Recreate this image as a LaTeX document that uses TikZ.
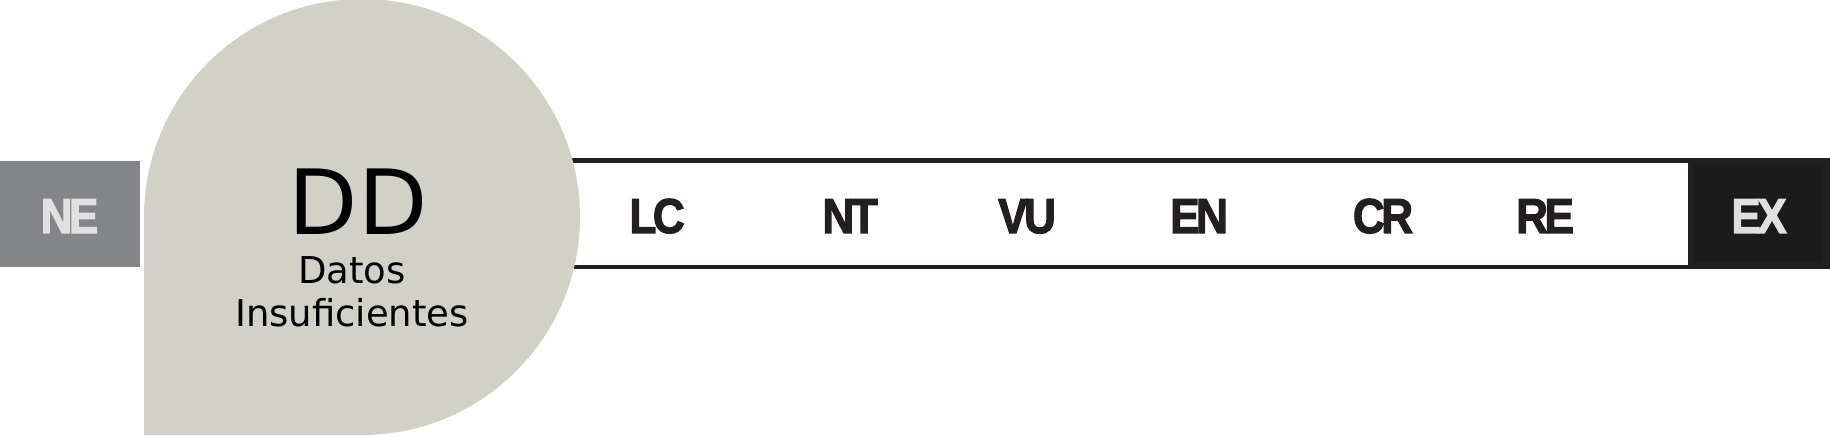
\documentclass[tikz,border=0pt]{standalone}
\usepackage{fontspec}
\newfontfamily\labfont[LetterSpace=-8, BoldFeatures={FakeBold=2.5}]{Liberation Sans}
\newfontfamily\djfont{DejaVu Sans}
\definecolor{ddfill}{RGB}{209,209,197}
\definecolor{negray}{RGB}{132,133,137}
\definecolor{netext}{RGB}{224,224,224}
\definecolor{ink}{RGB}{35,31,32}
\definecolor{exfill}{RGB}{27,27,27}
\tikzset{
  cat/.style={inner sep=0pt, anchor=base, text=ink, font=\labfont\bfseries\fontsize{49}{49}\selectfont},
  catlight/.style={cat, text=netext},
  bandline/.style={draw=ink, line width=4.5pt},
  ddtext/.style={inner sep=0pt, anchor=base, font=\djfont\fontsize{37}{37}\selectfont},
}
\newcommand{\sq}[1]{\scalebox{0.9}[1]{#1}}
\begin{document}
\begin{tikzpicture}[x=1pt,y=1pt]
\useasboundingbox (0,0) rectangle (1830,436);
% band
\draw[bandline] (500,275.5) -- (1690,275.5);
\draw[bandline] (500,169) -- (1690,169);
% EX box
\path[fill=ink] (1688,167) rectangle (1830,278);
\path[fill=exfill] (1694,173) rectangle (1823,271);
% NE box
\path[fill=negray] (0,169) rectangle (140,275);
% DD shape
\path[fill=ddfill] (144,1) -- (144,219) arc[start angle=180, end angle=-90, radius=218] -- cycle;
% labels
\node[catlight] (ne) at (69.5,203) {\sq{NE}};
\node[cat] (lc) at (657,203) {\sq{LC}};
\node[cat] (nt) at (850,203) {\sq{NT}};
\node[cat] (vu) at (1027,203) {\sq{VU}};
\node[cat] (en) at (1199,203) {\sq{EN}};
\node[cat] (cr) at (1383,203) {\sq{CR}};
\node[cat] (re) at (1545,203) {\sq{RE}};
\node[catlight] (ex) at (1759,203) {\sq{EX}};
% DD texts
\node[inner sep=0pt, anchor=base, font=\djfont\fontsize{90}{90}\selectfont] (dd) at (358,201) {DD};
\node[ddtext] (datos) at (352,152) {Datos};
\node[ddtext] (insuf) at (352,109) {Insuficientes};
\end{tikzpicture}
\end{document}
